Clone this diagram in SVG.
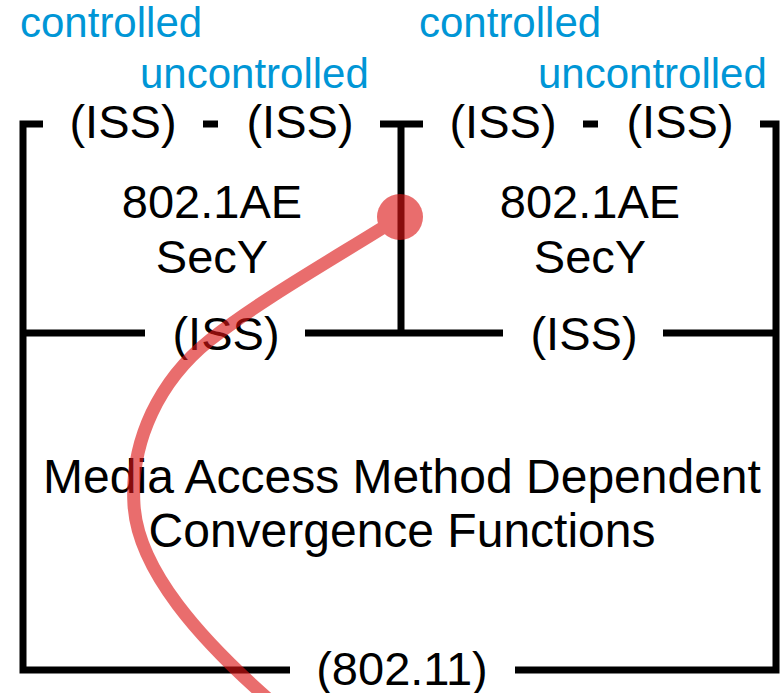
<svg xmlns="http://www.w3.org/2000/svg" width="781" height="693" viewBox="0 0 781 693">
  <style>
    .frame { fill: none; stroke: #000; stroke-width: 7; stroke-linecap: butt; stroke-linejoin: miter; }
    .lbl { font-family: "Liberation Sans", Arial, sans-serif; font-size: 47px; fill: #000; text-anchor: middle; }
    .big { font-size: 48px; }
    .port { font-family: "Liberation Sans", Arial, sans-serif; font-size: 42px; fill: #0096D6; }
    .trace { fill: none; stroke: rgb(220,20,20); stroke-width: 13; stroke-linecap: round; }
  </style>
  <rect width="781" height="693" fill="#fff"/>

  <!-- connector lines of the layer frames -->
  <g id="connectors">
    <path class="frame" d="M43 124 H23 V670 H290"/>
    <path class="frame" d="M515 670 H776 V124 H760"/>
    <path class="frame" d="M203 124 H218"/>
    <path class="frame" d="M583 124 H598"/>
    <path class="frame" d="M380 124 H423 M401 124 V333"/>
    <path class="frame" d="M23 333 H145 M305 333 H503 M663 333 H776"/>
  </g>

  <!-- left SecY -->
  <g id="secy-left">
    <text class="port" x="20" y="37">controlled</text>
    <text class="port" x="140" y="88">uncontrolled</text>
    <text class="lbl" x="123" y="138">(ISS)</text>
    <text class="lbl" x="300" y="138">(ISS)</text>
    <text class="lbl" x="212" y="218">802.1AE</text>
    <text class="lbl" x="212" y="273">SecY</text>
    <text class="lbl" x="226" y="350">(ISS)</text>
  </g>

  <!-- right SecY -->
  <g id="secy-right">
    <text class="port" x="419" y="37">controlled</text>
    <text class="port" x="538" y="88">uncontrolled</text>
    <text class="lbl" x="503" y="138">(ISS)</text>
    <text class="lbl" x="680" y="138">(ISS)</text>
    <text class="lbl" x="590" y="218">802.1AE</text>
    <text class="lbl" x="590" y="273">SecY</text>
    <text class="lbl" x="584" y="350">(ISS)</text>
  </g>

  <!-- convergence functions layer -->
  <g id="convergence">
    <text class="lbl big" x="402" y="493">Media Access Method Dependent</text>
    <text class="lbl big" x="402" y="547">Convergence Functions</text>
    <text class="lbl" x="402" y="685">(802.11)</text>
  </g>

  <!-- highlighted path -->
  <g id="trace" opacity="0.62">
    <path class="trace" d="M400 217 C340 255 260 300 210 340 C160 380 130 440 134 505 C138 570 200 640 275 705"/>
    <circle cx="400" cy="217" r="23" fill="rgb(220,20,20)"/>
  </g>
</svg>
